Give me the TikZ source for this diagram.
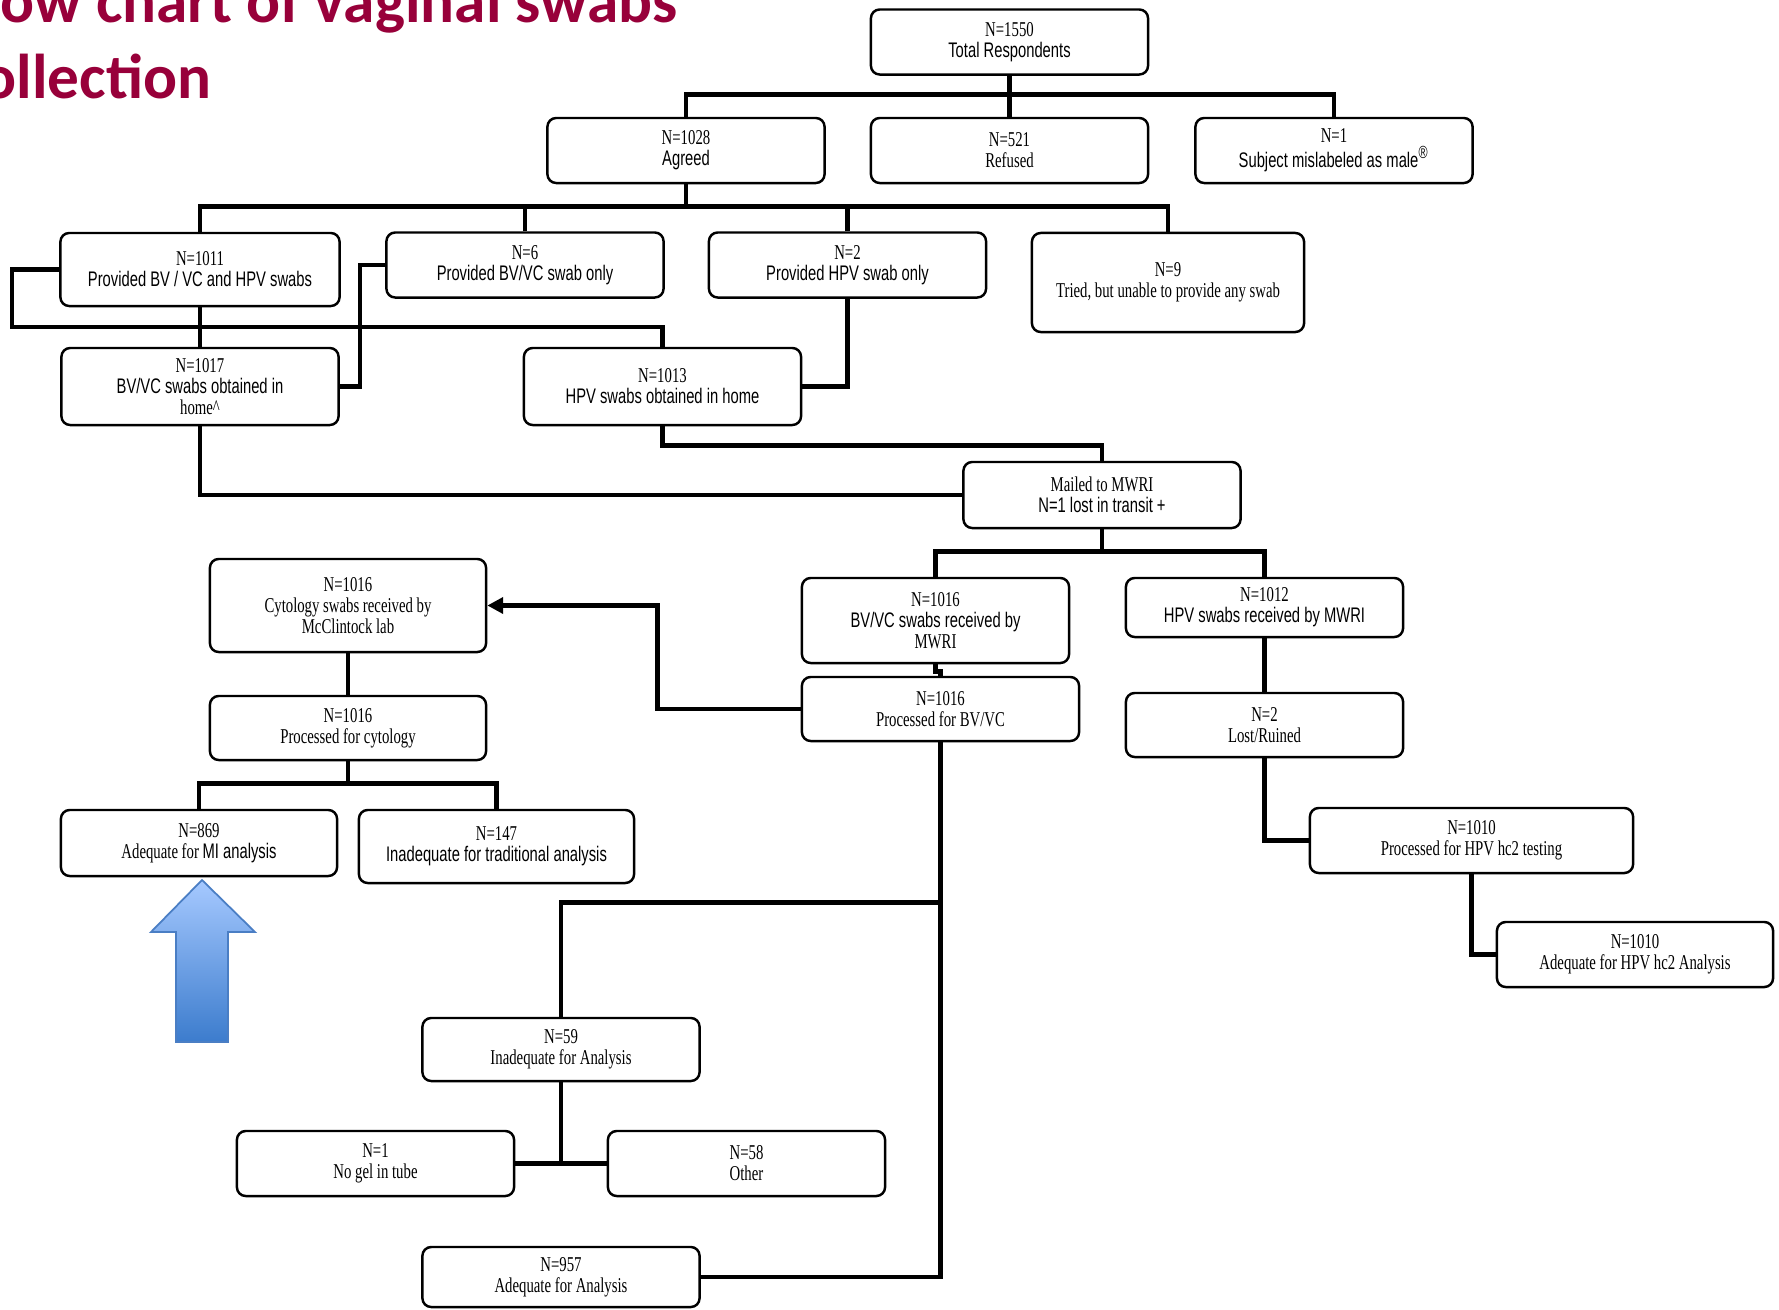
\documentclass[tikz,border=0pt]{standalone}
\usepackage{fontspec}
\setmainfont{Liberation Serif}[FakeStretch=0.7]
\newfontfamily\arialc{Liberation Sans}[FakeStretch=0.7]
\newfontfamily\titlefont{Carlito}
\usepackage{xcolor}
\usepackage{tikz}
\usetikzlibrary{positioning,calc,arrows.meta}
\definecolor{titlered}{RGB}{152,0,58}
\definecolor{arrowtop}{RGB}{166,201,255}
\definecolor{arrowbot}{RGB}{60,124,205}
\definecolor{arrowline}{RGB}{74,126,196}

\begin{document}
\begin{tikzpicture}[x=0.01cm, y=-0.01cm,
        block/.style={draw, rounded corners=2.5pt, line width=0.7pt, rectangle, minimum width=2.77cm, minimum height=0.65cm, inner sep=1pt, align=center, font=\fontsize{6}{6}\selectfont},
        link/.style={line width=1.3pt},
        >={Triangle[length=4.5pt,width=4.5pt]}
    ]
        \fill[white] (0,0) rectangle (1779,1309);
        \useasboundingbox (0,0) rectangle (1779,1309);

        % Title
        \node[anchor=base west, inner sep=0pt, text=titlered, font=\titlefont\bfseries\fontsize{18}{22}\selectfont] (title) at (0,22) {ow chart of vaginal swabs};
        \node[anchor=base west, inner sep=0pt, text=titlered, font=\titlefont\bfseries\fontsize{18}{22}\selectfont] (titlecont) at (-18,98) {ollection};

        % Recruitment
        \node[block] (total) at (1009.5,42) {N=1550\\\arialc Total Respondents};
        \node[block] (agreed) at (686,150.5) {N=1028\\\arialc Agreed};
        \node[block] (refused) at (1009.5,150.5) {N=521\\Refused};
        \node[block] (mislab) at (1334,150.5) {N=1\\\arialc Subject mislabeled as male\textsuperscript{®}};

        % Swabs provided
        \node[block, minimum width=2.79cm, minimum height=0.73cm] (both) at (200,269.5) {N=1011\\\arialc Provided BV / VC and HPV swabs};
        \node[block] (bvonly) at (525,265) {N=6\\\arialc Provided BV/VC swab only};
        \node[block] (hpvonly) at (847.5,265) {N=2\\\arialc Provided HPV swab only};
        \node[block, minimum width=2.72cm, minimum height=0.99cm] (tried) at (1168,282.5) {N=9\\Tried, but unable to provide any swab};
        \node[block, minimum height=0.77cm] (bvobt) at (200,386.5) {N=1017\\\arialc BV/VC swabs obtained in\\home\textasciicircum};
        \node[block, minimum height=0.77cm] (hpvobt) at (662.5,386.5) {N=1013\\\arialc HPV swabs obtained in home};
        \node[block, minimum height=0.66cm] (mailed) at (1102,495) {Mailed to MWRI\\\arialc N=1 lost in transit +};

        % MWRI
        \node[block, minimum width=2.67cm, minimum height=0.85cm] (bvrecv) at (935.5,620.5) {N=1016\\\arialc BV/VC swabs received by\\MWRI};
        \node[block, minimum height=0.59cm] (hpvrecv) at (1264.5,607.5) {N=1012\\\arialc HPV swabs received by MWRI};
        \node[block, minimum height=0.64cm] (bvproc) at (940.5,709) {N=1016\\Processed for BV/VC};
        \node[block, minimum height=0.64cm] (lost) at (1264.5,725) {N=2\\Lost/Ruined};
        \node[block, minimum width=3.23cm] (hc2proc) at (1471.5,840.5) {N=1010\\Processed for HPV hc2 testing};
        \node[block, minimum width=2.76cm] (hc2adeq) at (1635,954.5) {N=1010\\Adequate for HPV hc2 Analysis};

        % Cytology
        \node[block, minimum width=2.76cm, minimum height=0.93cm] (cytrecv) at (348,605.5) {N=1016\\Cytology swabs received by\\McClintock lab};
        \node[block, minimum width=2.76cm, minimum height=0.64cm] (cytproc) at (348,728) {N=1016\\Processed for cytology};
        \node[block, minimum width=2.76cm, minimum height=0.66cm] (mi) at (199,843) {N=869\\Adequate for {\arialc MI analysis}};
        \node[block, minimum width=2.75cm, minimum height=0.73cm] (trad) at (496.5,846.5) {N=147\\\arialc Inadequate for traditional analysis};

        % BV/VC results
        \node[block, minimum height=0.63cm] (inadeq) at (561,1049.5) {N=59\\Inadequate for Analysis};
        \node[block] (nogel) at (375.5,1163.5) {N=1\\No gel in tube};
        \node[block] (other) at (746.5,1163.5) {N=58\\Other};
        \node[block, minimum height=0.6cm] (adeq) at (561,1277) {N=957\\Adequate for Analysis};

        % Connections
        \draw[link] (total) -- (refused);
        \draw[link] (agreed.north) -- ++(0,-22) -| (mislab.north);
        \draw[link] (agreed.south) -- ++(0,25);
        \draw[link] (both.north) -- ++(0,-25) -| (tried.north);
        \draw[link] (bvonly.north) -- ++(0,-25);
        \draw[link] (hpvonly.north) -- ++(0,-25);
        \draw[link] (both.west) -- ++(-47,0) -- ++(0,57.5) -| (hpvobt.north);
        \draw[link] (both) -- (bvobt);
        \draw[link] (bvonly.west) -- ++(-25,0) |- (bvobt.east);
        \draw[link] (hpvonly.south) |- (hpvobt.east);
        \draw[link] (hpvobt.south) -- ++(0,19) -| (mailed.north);
        \draw[link] (bvobt.south) |- (mailed.west);
        \draw[link] (mailed.south) -- ++(0,25);
        \draw[link] (bvrecv.north) -- ++(0,-25) -| (hpvrecv.north);
        \draw[link] (bvrecv.south) -- ++(0,7) -| (bvproc.north);
        \draw[link] (hpvrecv) -- (lost);
        \draw[link] (lost.south) |- (hc2proc.west);
        \draw[link] (hc2proc.south) |- (hc2adeq.west);
        \draw[link, ->] (bvproc.west) -- ++(-143,0) |- (cytrecv.east);
        \draw[link] (cytrecv) -- (cytproc);
        \draw[link] (cytproc.south) -- ++(0,25);
        \draw[link] (mi.north) -- ++(0,-25) -| (trad.north);
        \draw[link] (bvproc.south) |- (adeq.east);
        \draw[link] (inadeq.north) -- ++(0,-114) -| (bvproc.south);
        \draw[link] (nogel) -- (other);
        \draw[link] (inadeq.south) -- ++(0,82);

        % Highlight arrow
        \shade[top color=arrowtop, bottom color=arrowbot, draw=arrowline, line width=0.5pt]
            (202,880) -- (255,932) -- (228,932) -- (228,1042) -- (176,1042) -- (176,932) -- (151,932) -- cycle;
\end{tikzpicture}
\end{document}
